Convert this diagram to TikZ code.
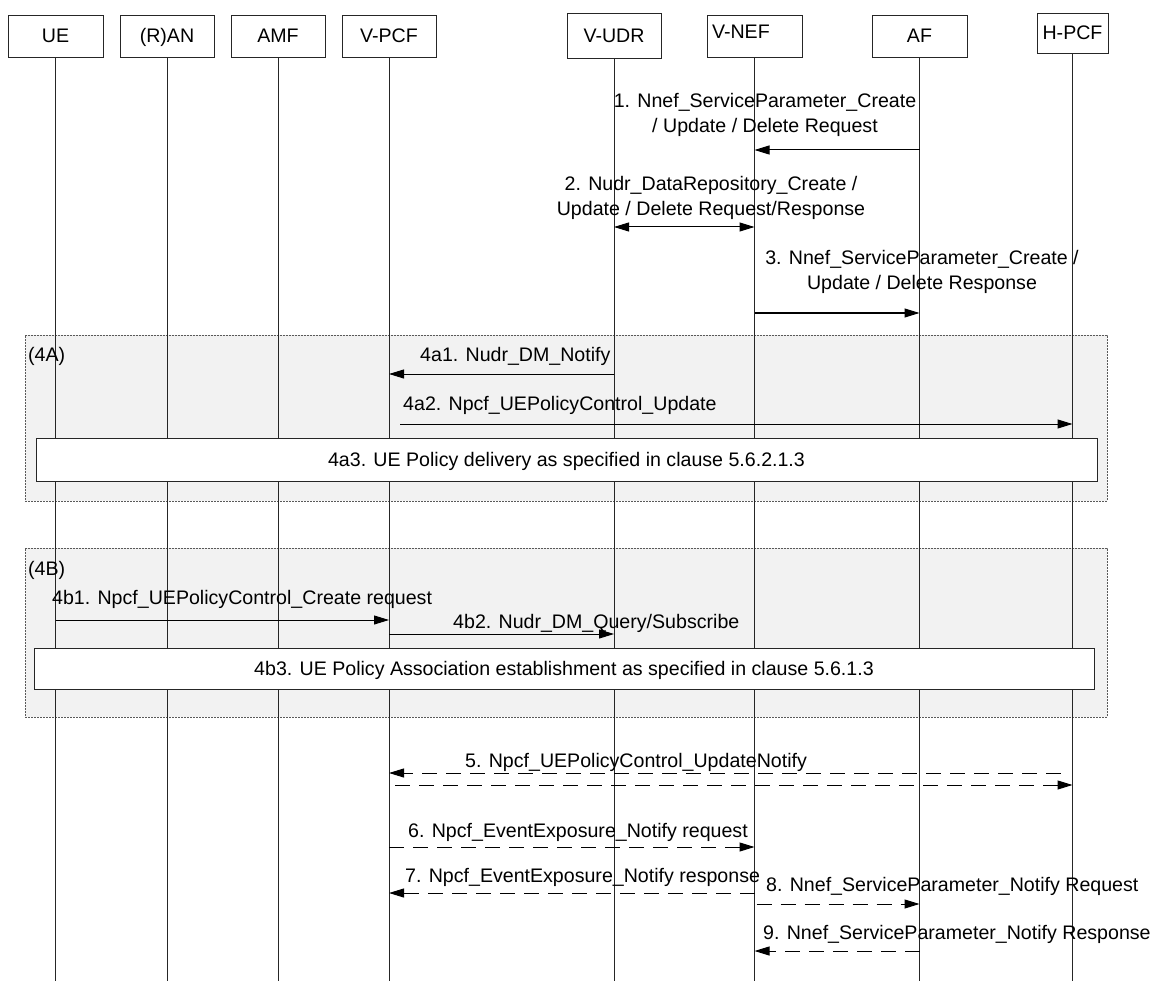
\documentclass[tikz,border=0pt]{standalone}
\usepackage{fontspec}
\setmainfont{Liberation Sans}
\usetikzlibrary{arrows.meta}
\definecolor{grpfill}{RGB}{242,242,242}
\begin{document}
\begin{tikzpicture}[x=1pt,y=-1pt,
  every node/.style={font=\fontsize{19.6}{25}\selectfont},
  hdr/.style={draw=black!85, line width=0.9pt, fill=white, minimum width=95pt, minimum height=42pt, inner sep=0pt, text height=14pt, text depth=0pt},
  life/.style={line width=0.9pt, draw=black!85},
  grp/.style={draw=black!65, fill=grpfill, line width=0.7pt, dash pattern=on 2pt off 1pt, inner sep=0pt, anchor=north west},
  band/.style={draw=black!85, fill=white, line width=0.9pt, inner sep=0pt, text height=14pt, text depth=0pt},
  lbl/.style={inner sep=0pt, anchor=base, align=center},
  lbll/.style={inner sep=0pt, anchor=base west},
  msg/.style={line width=1pt, -{Triangle[length=15pt,width=9pt]}},
  dmsg/.style={msg, dash pattern=on 15pt off 9pt},
  bmsg/.style={line width=1pt, {Triangle[length=15pt,width=9pt]}-{Triangle[length=15pt,width=9pt]}}
]
\useasboundingbox (0,0) rectangle (1150,981);
\fill[white] (0,0) rectangle (1150,981);
% group frames
\node[grp, minimum width=1082pt, minimum height=166pt] (g4a) at (25,335) {};
\node[grp, minimum width=1082pt, minimum height=169pt] (g4b) at (25,548) {};
% headers
\node[hdr] (ue) at (55.5,36) {UE};
\node[hdr, minimum width=94pt] (ran) at (167,36) {(R)AN};
\node[hdr, minimum width=94pt] (amf) at (278,36) {AMF};
\node[hdr, minimum width=94pt] (vpcf) at (389,36) {V-PCF};
\node[hdr, minimum width=94pt, minimum height=45pt] (vudr) at (614,35.5) {V-UDR};
\node[hdr, text width=85pt, align=left, text depth=8pt] (vnef) at (754.5,36) {V-NEF};
\node[hdr] (af) at (919.5,36) {AF};
\node[hdr, minimum width=71pt, minimum height=40pt] (hpcf) at (1072.5,33) {H-PCF};
% lifelines
\coordinate (bot) at (0,981);
\foreach \n in {ue,ran,amf,vpcf,vudr,vnef,af,hpcf} \draw[life] (\n.south) -- (\n.south |- bot);
% row coordinates
\coordinate (r1) at (0,150);
\coordinate (r2) at (0,227);
\coordinate (r3) at (0,313);
\coordinate (r4a1) at (0,374);
\coordinate (r4a2) at (0,424);
\coordinate (r4b1) at (0,620);
\coordinate (r4b2) at (0,634);
\coordinate (r5a) at (0,773);
\coordinate (r5b) at (0,785);
\coordinate (r6) at (0,847);
\coordinate (r7) at (0,893);
\coordinate (r8) at (0,904);
\coordinate (r9) at (0,951);
% group labels
\node[lbll] (l4a) at (28,361) {(4A)};
\node[lbll] (l4b) at (28,575) {(4B)};
% messages
\draw[msg] (af |- r1) -- (vnef |- r1);
\node[lbl] (t1) at (765,133) {1. Nnef\_ServiceParameter\_Create\\/ Update / Delete Request};
\draw[bmsg] (vudr |- r2) -- (vnef |- r2);
\node[lbl] (t2) at (711,216) {2. Nudr\_DataRepository\_Create /\\Update / Delete Request/Response};
\draw[msg] (vnef |- r3) -- (af |- r3);
\node[lbl] (t3) at (922,290) {3. Nnef\_ServiceParameter\_Create /\\Update / Delete Response};
\draw[msg] (vudr |- r4a1) -- (vpcf |- r4a1);
\node[lbll] (t4a1) at (420,361) {4a1. Nudr\_DM\_Notify};
\draw[msg] ([xshift=11pt]vpcf |- r4a2) -- (hpcf |- r4a2);
\node[lbll] (t4a2) at (403,410) {4a2. Npcf\_UEPolicyControl\_Update};
\node[band, minimum width=1061pt, minimum height=43pt] (b4a3) at (566.5,459.5) {4a3. UE Policy delivery as specified in clause 5.6.2.1.3};
\draw[msg] (ue |- r4b1) -- (vpcf |- r4b1);
\node[lbll] (t4b1) at (52,604) {4b1. Npcf\_UEPolicyControl\_Create request};
\draw[msg] (vpcf |- r4b2) -- (vudr |- r4b2);
\node[lbll] (t4b2) at (453,628) {4b2. Nudr\_DM\_Query/Subscribe};
\node[band, minimum width=1060pt, minimum height=41pt] (b4b3) at (564,668.5) {4b3. UE Policy Association establishment as specified in clause 5.6.1.3};
\draw[dmsg] ([xshift=-12pt]hpcf |- r5a) -- (vpcf |- r5a);
\draw[dmsg] ([xshift=6pt]vpcf |- r5b) -- (hpcf |- r5b);
\node[lbll] (t5) at (465,767) {5. Npcf\_UEPolicyControl\_UpdateNotify};
\draw[dmsg] (vpcf |- r6) -- (vnef |- r6);
\node[lbll] (t6) at (408,837) {6. Npcf\_EventExposure\_Notify request};
\draw[dmsg] (vnef |- r7) -- (vpcf |- r7);
\node[lbll] (t7) at (405,882) {7. Npcf\_EventExposure\_Notify response};
\draw[dmsg] ([xshift=2pt]vnef |- r8) -- (af |- r8);
\node[lbll] (t8) at (766,891) {8. Nnef\_ServiceParameter\_Notify Request};
\draw[dmsg] (af |- r9) -- (vnef |- r9);
\node[lbll] (t9) at (763,939) {9. Nnef\_ServiceParameter\_Notify Response};
\end{tikzpicture}
\end{document}
